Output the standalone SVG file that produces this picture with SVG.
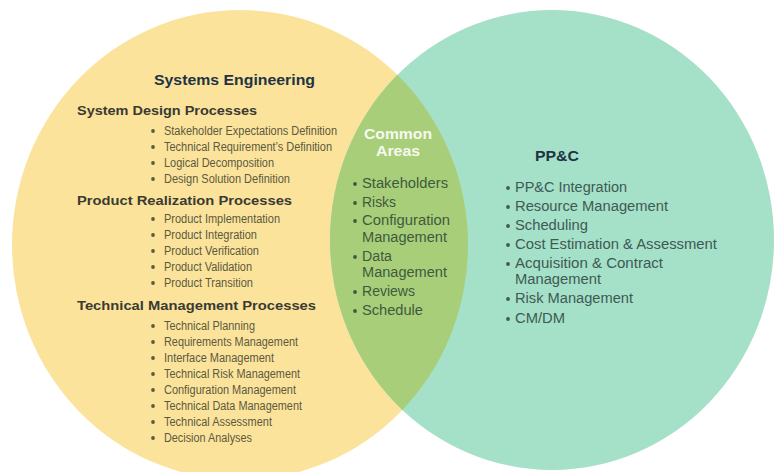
<svg xmlns="http://www.w3.org/2000/svg" xmlns:xlink="http://www.w3.org/1999/xlink" width="776" height="472" viewBox="0 0 776 472">
<style>
text{font-family:"Liberation Sans",Arial,sans-serif}
.title{font-size:15.5px;font-weight:bold;fill:#1f3344}
.head{font-size:13.5px;font-weight:bold;fill:#3a3a32}
.item{font-size:12px;fill:#5c5a3c}
.cmh{font-size:14px;font-weight:bold;fill:#f6f9ef}
.cm{font-size:14px;fill:#3f5a3c}
.pp{font-size:14px;fill:#3e5a54}
.b1{fill:#5c5a3c}
.b2{fill:#3f5a3c}
.b3{fill:#3e5a54}
</style>
<defs>
<ellipse id="eL" cx="240" cy="245" rx="228" ry="235"/>
<clipPath id="clipL"><use xlink:href="#eL"/></clipPath>
<circle id="dot" r="1.9"/>
</defs>
<rect width="776" height="472" fill="#ffffff"/>
<g id="systems-engineering">
<use xlink:href="#eL" fill="#fbe39c"/>
</g>
<g id="ppc">
<ellipse cx="552" cy="240" rx="222" ry="230" fill="#a5e0c8"/>
</g>
<g id="common-areas">
<ellipse cx="552" cy="240" rx="222" ry="230" fill="#a8ce7a" clip-path="url(#clipL)"/>
</g>
<g id="se-text">
<text class="title" x="154" y="85" textLength="161" lengthAdjust="spacingAndGlyphs">Systems Engineering</text>
<text class="head" x="77" y="115" textLength="180" lengthAdjust="spacingAndGlyphs">System Design Processes</text>
<g class="b1">
<use xlink:href="#dot" x="153" y="131"/><use xlink:href="#dot" x="153" y="147"/><use xlink:href="#dot" x="153" y="163"/><use xlink:href="#dot" x="153" y="179"/>
<use xlink:href="#dot" x="153" y="219"/><use xlink:href="#dot" x="153" y="235"/><use xlink:href="#dot" x="153" y="251"/><use xlink:href="#dot" x="153" y="267"/><use xlink:href="#dot" x="153" y="283"/>
<use xlink:href="#dot" x="153" y="326"/><use xlink:href="#dot" x="153" y="342"/><use xlink:href="#dot" x="153" y="358"/><use xlink:href="#dot" x="153" y="374"/><use xlink:href="#dot" x="153" y="390"/><use xlink:href="#dot" x="153" y="406"/><use xlink:href="#dot" x="153" y="422"/><use xlink:href="#dot" x="153" y="438"/>
</g>
<text class="item" x="164" y="135" textLength="173" lengthAdjust="spacingAndGlyphs">Stakeholder Expectations Definition</text>
<text class="item" x="164" y="151" textLength="168" lengthAdjust="spacingAndGlyphs">Technical Requirement’s Definition</text>
<text class="item" x="164" y="167" textLength="110" lengthAdjust="spacingAndGlyphs">Logical Decomposition</text>
<text class="item" x="164" y="183" textLength="126" lengthAdjust="spacingAndGlyphs">Design Solution Definition</text>
<text class="head" x="77" y="205" textLength="215" lengthAdjust="spacingAndGlyphs">Product Realization Processes</text>
<text class="item" x="164" y="223" textLength="116" lengthAdjust="spacingAndGlyphs">Product Implementation</text>
<text class="item" x="164" y="239" textLength="93" lengthAdjust="spacingAndGlyphs">Product Integration</text>
<text class="item" x="164" y="255" textLength="95" lengthAdjust="spacingAndGlyphs">Product Verification</text>
<text class="item" x="164" y="271" textLength="88" lengthAdjust="spacingAndGlyphs">Product Validation</text>
<text class="item" x="164" y="287" textLength="89" lengthAdjust="spacingAndGlyphs">Product Transition</text>
<text class="head" x="77" y="310" textLength="239" lengthAdjust="spacingAndGlyphs">Technical Management Processes</text>
<text class="item" x="164" y="330" textLength="91" lengthAdjust="spacingAndGlyphs">Technical Planning</text>
<text class="item" x="164" y="346" textLength="134" lengthAdjust="spacingAndGlyphs">Requirements Management</text>
<text class="item" x="164" y="362" textLength="110" lengthAdjust="spacingAndGlyphs">Interface Management</text>
<text class="item" x="164" y="378" textLength="136" lengthAdjust="spacingAndGlyphs">Technical Risk Management</text>
<text class="item" x="164" y="394" textLength="132" lengthAdjust="spacingAndGlyphs">Configuration Management</text>
<text class="item" x="164" y="410" textLength="138" lengthAdjust="spacingAndGlyphs">Technical Data Management</text>
<text class="item" x="164" y="426" textLength="108" lengthAdjust="spacingAndGlyphs">Technical Assessment</text>
<text class="item" x="164" y="442" textLength="88" lengthAdjust="spacingAndGlyphs">Decision Analyses</text>
</g>
<g id="common-text">
<text class="cmh" x="364" y="139" textLength="68" lengthAdjust="spacingAndGlyphs">Common</text>
<text class="cmh" x="376" y="156" textLength="44" lengthAdjust="spacingAndGlyphs">Areas</text>
<g class="b2">
<use xlink:href="#dot" x="355" y="184"/><use xlink:href="#dot" x="355" y="203"/><use xlink:href="#dot" x="355" y="221"/><use xlink:href="#dot" x="355" y="257"/><use xlink:href="#dot" x="355" y="292"/><use xlink:href="#dot" x="355" y="311"/>
</g>
<text class="cm" x="362" y="188" textLength="86" lengthAdjust="spacingAndGlyphs">Stakeholders</text>
<text class="cm" x="362" y="207" textLength="34" lengthAdjust="spacingAndGlyphs">Risks</text>
<text class="cm" x="362" y="225" textLength="88" lengthAdjust="spacingAndGlyphs">Configuration</text>
<text class="cm" x="362" y="242" textLength="85" lengthAdjust="spacingAndGlyphs">Management</text>
<text class="cm" x="362" y="261" textLength="30" lengthAdjust="spacingAndGlyphs">Data</text>
<text class="cm" x="362" y="277" textLength="85" lengthAdjust="spacingAndGlyphs">Management</text>
<text class="cm" x="362" y="296" textLength="53" lengthAdjust="spacingAndGlyphs">Reviews</text>
<text class="cm" x="362" y="315" textLength="61" lengthAdjust="spacingAndGlyphs">Schedule</text>
</g>
<g id="ppc-text">
<text class="title" x="535" y="161" textLength="44" lengthAdjust="spacingAndGlyphs">PP&amp;C</text>
<g class="b3">
<use xlink:href="#dot" x="508" y="188"/><use xlink:href="#dot" x="508" y="207"/><use xlink:href="#dot" x="508" y="226"/><use xlink:href="#dot" x="508" y="245"/><use xlink:href="#dot" x="508" y="264"/><use xlink:href="#dot" x="508" y="299"/><use xlink:href="#dot" x="508" y="319"/>
</g>
<text class="pp" x="515" y="192" textLength="112" lengthAdjust="spacingAndGlyphs">PP&amp;C Integration</text>
<text class="pp" x="515" y="211" textLength="153" lengthAdjust="spacingAndGlyphs">Resource Management</text>
<text class="pp" x="515" y="230" textLength="73" lengthAdjust="spacingAndGlyphs">Scheduling</text>
<text class="pp" x="515" y="249" textLength="202" lengthAdjust="spacingAndGlyphs">Cost Estimation &amp; Assessment</text>
<text class="pp" x="515" y="268" textLength="148" lengthAdjust="spacingAndGlyphs">Acquisition &amp; Contract</text>
<text class="pp" x="515" y="284" textLength="86" lengthAdjust="spacingAndGlyphs">Management</text>
<text class="pp" x="515" y="303" textLength="118" lengthAdjust="spacingAndGlyphs">Risk Management</text>
<text class="pp" x="515" y="323" textLength="50" lengthAdjust="spacingAndGlyphs">CM/DM</text>
</g>
</svg>
